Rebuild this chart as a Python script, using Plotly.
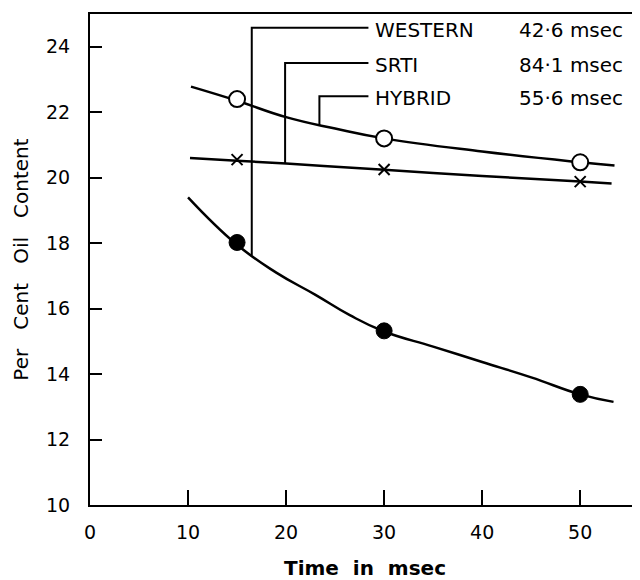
import plotly.graph_objects as go

# Measured points (time in msec, per cent oil content)
time_pts = [15, 30, 50]
hybrid_pts = [22.4, 21.2, 20.47]
srti_pts = [20.55, 20.25, 19.88]
western_pts = [18.02, 15.32, 13.38]

# Fitted curves
hybrid_curve_x = [10.3, 15, 20, 25, 30, 40, 50, 53.5]
hybrid_curve_y = [22.78, 22.35, 21.85, 21.5, 21.2, 20.8, 20.47, 20.37]
srti_curve_x = [10.2, 15, 20, 30, 40, 50, 53.2]
srti_curve_y = [20.6, 20.52, 20.43, 20.24, 20.05, 19.88, 19.82]
western_curve_x = [10.0, 15, 19, 23, 26.5, 30, 35, 40, 45, 50, 53.4]
western_curve_y = [19.4, 17.95, 17.1, 16.42, 15.8, 15.3, 14.84, 14.37, 13.9, 13.38, 13.15]

# Leader lines from labels to curves
labels = ["WESTERN", "SRTI", "HYBRID"]
label_values = ["42·6 msec", "84·1 msec", "55·6 msec"]
label_y = [24.58, 23.5, 22.49]
leader_x = [16.5, 19.9, 23.4]
leader_end_y = [17.62, 20.42, 21.6]
leader_text_x = 28.4
value_text_x = 43.6

x_ticks = [0, 10, 20, 30, 40, 50]
y_ticks = [10, 12, 14, 16, 18, 20, 22, 24]

FONT = "DejaVu Sans, sans-serif"

fig = go.Figure()

line_style = dict(color="black", width=2.5, shape="spline", smoothing=1.3)
for cx, cy in [(hybrid_curve_x, hybrid_curve_y), (srti_curve_x, srti_curve_y),
               (western_curve_x, western_curve_y)]:
    fig.add_trace(go.Scatter(x=cx, y=cy, mode="lines", line=line_style,
                             showlegend=False, hoverinfo="skip"))

for lx, ly, ey in zip(leader_x, label_y, leader_end_y):
    fig.add_trace(go.Scatter(x=[leader_text_x, lx, lx], y=[ly, ly, ey], mode="lines",
                             line=dict(color="black", width=2),
                             showlegend=False, hoverinfo="skip"))

fig.add_trace(go.Scatter(x=time_pts, y=hybrid_pts, mode="markers", name="HYBRID",
                         marker=dict(symbol="circle", size=16, color="white",
                                     line=dict(color="black", width=2)),
                         showlegend=False))
fig.add_trace(go.Scatter(x=time_pts, y=srti_pts, mode="markers", name="SRTI",
                         marker=dict(symbol="x-thin", size=11, color="black",
                                     line=dict(color="black", width=2)),
                         showlegend=False))
fig.add_trace(go.Scatter(x=time_pts, y=western_pts, mode="markers", name="WESTERN",
                         marker=dict(symbol="circle", size=16, color="black",
                                     line=dict(color="black", width=1)),
                         showlegend=False))

for name, val, ly in zip(labels, label_values, label_y):
    fig.add_annotation(x=leader_text_x, y=ly, text=name, showarrow=False,
                       xanchor="left", xshift=5, yanchor="middle", yshift=-2,
                       font=dict(family=FONT, size=20, color="black"))
    fig.add_annotation(x=value_text_x, y=ly, text=val, showarrow=False,
                       xanchor="left", yanchor="middle", yshift=-2,
                       font=dict(family=FONT, size=20, color="black"))

# The page body adds an 8px offset, so the figure is sized to fit the window
fig.update_layout(
    width=632, height=572,
    margin=dict(l=82, r=0, t=6, b=75),
    paper_bgcolor="white", plot_bgcolor="white",
    font=dict(family=FONT, color="black", size=19),
    xaxis=dict(range=[0, 56.1], tickvals=x_ticks, ticks="inside", ticklen=15,
               tickwidth=2, tickcolor="black", showline=True, linecolor="black",
               linewidth=2, mirror=True, showgrid=False, zeroline=False,
               automargin=False, ticklabelstandoff=9,
               tickfont=dict(family=FONT, size=19),
               title=dict(text="<b>Time  in  msec</b>", standoff=24,
                          font=dict(family=FONT, size=20))),
    yaxis=dict(range=[10, 25], tickvals=y_ticks, ticks="inside", ticklen=12,
               tickwidth=2, tickcolor="black", showline=True, linecolor="black",
               linewidth=2, showgrid=False, zeroline=False,
               automargin=False, ticklabelstandoff=14,
               tickfont=dict(family=FONT, size=19),
               title=dict(text="Per   Cent   Oil   Content", standoff=12,
                          font=dict(family=FONT, size=20))),
)

fig.write_html("out.html")
